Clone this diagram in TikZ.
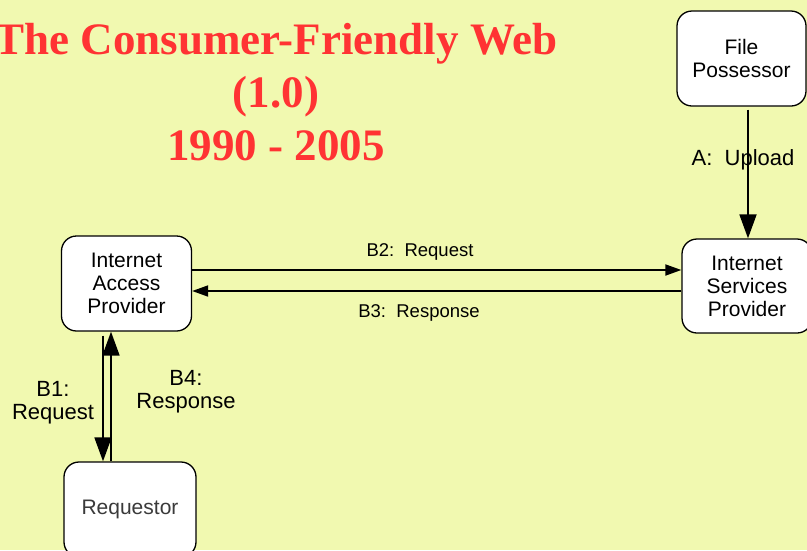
\documentclass[tikz,border=0pt]{standalone}
\usepackage{fontspec}
\setmainfont{Liberation Sans}
\newfontfamily\titlefont{Liberation Serif}
\usepackage{xcolor}
\usetikzlibrary{arrows.meta,calc}
\definecolor{paper}{HTML}{F1F9B0}
\definecolor{title}{HTML}{FF3333}
\definecolor{ink}{HTML}{000000}
\definecolor{greytext}{HTML}{3A3A3A}
\tikzset{
  party/.style={draw=ink, fill=white, line width=1.3pt, rounded corners=15pt,
    align=center, font=\fontsize{21}{23}\selectfont, inner sep=0pt},
  flow/.style={draw=ink, line width=1.8pt, -{Triangle[length=16pt,width=11pt]}},
  bigflow/.style={draw=ink, line width=1.8pt, -{Triangle[length=24pt,width=17pt]}},
  lab/.style={align=center, font=\fontsize{22}{23}\selectfont},
  labs/.style={font=\fontsize{18.5}{20}\selectfont},
}
\begin{document}
\begin{tikzpicture}[x=1pt,y=-1pt]
  \useasboundingbox[fill=paper] (0,0) rectangle (807,550);

  % heading
  \node[text=title, align=center, font=\titlefont\bfseries\fontsize{45}{53}\selectfont]
    (head) at (276,92) {The Consumer-Friendly Web\\(1.0)\\1990 - 2005};

  % the four parties
  \node[party, minimum width=129pt, minimum height=95pt] (fp)  at (741.5,58.5) {File\\Possessor};
  \node[party, minimum width=130pt, minimum height=94pt] (isp) at (747,286)  {Internet\\Services\\Provider};
  \node[party, minimum width=130pt, minimum height=95pt] (iap) at (126.5,283.5) {Internet\\Access\\Provider};
  \node[party, minimum width=132pt, minimum height=95pt, text=greytext] (req) at (130,509.5) {Requestor};

  % upload
  \draw[bigflow] ([xshift=6.5pt,yshift=-3pt]fp.south) -- ([xshift=6.5pt]fp.south |- isp.north);
  \node[lab] (la) at (743,160) {A:\ \ Upload};

  % provider to provider
  \draw[flow] ([yshift=13.5pt]iap.east) -- ([yshift=13.5pt]iap.east -| isp.west);
  \draw[flow] ([yshift=-7.5pt]iap.east -| isp.west) -- ([yshift=-7.5pt]iap.east);
  \node[labs] (lb2) at (420,252) {B2:\ \ Request};
  \node[labs] (lb3) at (419,313) {B3:\ \ Response};

  % requestor to access provider
  \draw[bigflow] ([xshift=-23.5pt,yshift=-4pt]iap.south) -- ([xshift=-23.5pt]iap.south |- req.north);
  \draw[bigflow] ([xshift=-15.5pt]iap.south |- req.north) -- ([xshift=-15.5pt]iap.south);
  \node[lab] (lb1) at (53,403) {B1:\\Request};
  \node[lab] (lb4) at (186,392) {B4:\\Response};
\end{tikzpicture}
\end{document}
